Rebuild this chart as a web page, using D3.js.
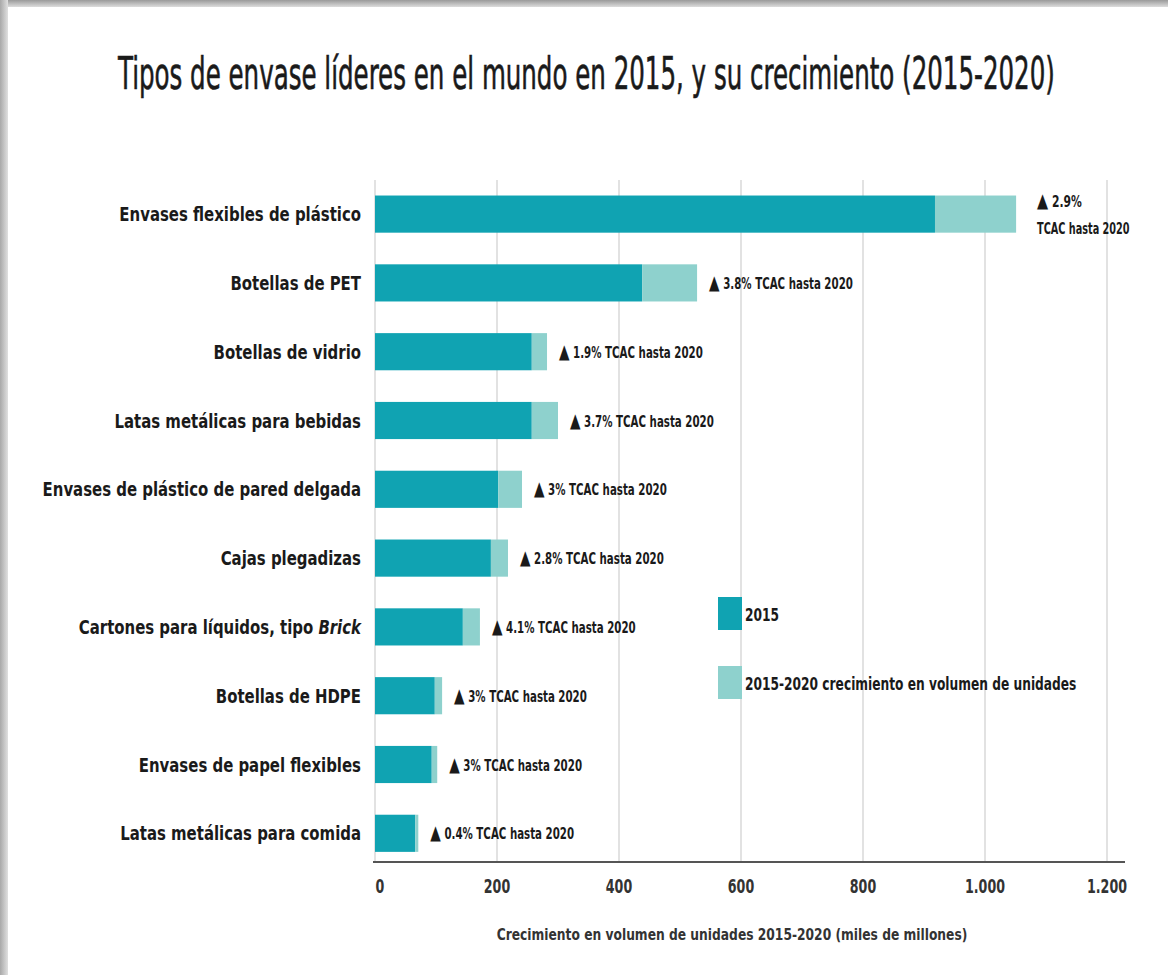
<!DOCTYPE html>
<html>
<head>
<meta charset="utf-8">
<script src="https://cdn.jsdelivr.net/npm/d3@7"></script>
<style>
  html, body { margin: 0; padding: 0; background: #fff; }
  svg { display: block; }
  text { font-family: "DejaVu Sans Condensed", "Liberation Sans Narrow", sans-serif; font-stretch: condensed; fill: #1a1a1a; }
</style>
</head>
<body>
<svg id="chart" width="1168" height="975"></svg>
<script>
// ---- data ----
const categories = [
  "Envases flexibles de plástico",
  "Botellas de PET",
  "Botellas de vidrio",
  "Latas metálicas para bebidas",
  "Envases de plástico de pared delgada",
  "Cajas plegadizas",
  "Cartones para líquidos, tipo Brick",
  "Botellas de HDPE",
  "Envases de papel flexibles",
  "Latas metálicas para comida"
];
const values2015 = [918, 438, 257, 257, 202, 190, 144, 98, 93, 66];
const growth2015_2020 = [133, 90, 25, 43, 39, 28, 28, 12, 9, 5];
const cagrLabels = ["2.9%", "3.8%", "1.9%", "3.7%", "3%", "2.8%", "4.1%", "3%", "3%", "0.4%"];
const tickValues = [0, 200, 400, 600, 800, 1000, 1200];
const tickLabels = ["0", "200", "400", "600", "800", "1.000", "1.200"];
const seriesNames = ["2015", "2015-2020 crecimiento en volumen de unidades"];
const titleText = "Tipos de envase líderes en el mundo en 2015, y su crecimiento (2015-2020)";
const axisTitle = "Crecimiento en volumen de unidades 2015-2020 (miles de millones)";

const colorDark = "#10a3b2";
const colorLight = "#8ed1cd";

const svg = d3.select("#chart");

// place a text at (x,y) squeezed horizontally by factor f (via transform)
function place(sel, xf, yf, f) {
  sel.attr("x", 0).attr("y", 0)
    .attr("transform", function(d, i) {
      return `translate(${typeof xf === "function" ? xf(d, i) : xf},${typeof yf === "function" ? yf(d, i) : yf}) scale(${f},1)`;
    });
}

// frame shadow (top and left)
const defs = svg.append("defs");
const gTop = defs.append("linearGradient").attr("id", "gTop").attr("x1", 0).attr("y1", 0).attr("x2", 0).attr("y2", 1);
gTop.append("stop").attr("offset", "0%").attr("stop-color", "#9a9a9a");
gTop.append("stop").attr("offset", "100%").attr("stop-color", "#dcdcdc");
const gLeft = defs.append("linearGradient").attr("id", "gLeft").attr("x1", 0).attr("y1", 0).attr("x2", 1).attr("y2", 0);
gLeft.append("stop").attr("offset", "0%").attr("stop-color", "#a8a8a8");
gLeft.append("stop").attr("offset", "100%").attr("stop-color", "#e0e0e0");
svg.append("rect").attr("x", 0).attr("y", 0).attr("width", 1168).attr("height", 7).attr("fill", "url(#gTop)");
svg.append("rect").attr("x", 0).attr("y", 0).attr("width", 8).attr("height", 975).attr("fill", "url(#gLeft)");

// title
const title = svg.append("text")
  .style("font-size", "44px").style("stroke", "#1a1a1a").style("stroke-width", 0.6)
  .text(titleText);
const tw = title.node().getComputedTextLength();
title.call(place, 118, 89, 937 / tw);

// scales
const x = d3.scaleLinear().domain([0, 1200]).range([375, 1107]);
const y = d3.scaleBand().domain(categories).range([179.7, 867.7]).paddingInner(0.46).paddingOuter(0.23);

// gridlines
svg.append("g").selectAll("line").data(tickValues).join("line")
  .attr("x1", d => x(d)).attr("x2", d => x(d))
  .attr("y1", 180).attr("y2", 862)
  .attr("stroke", "#cfcfcf").attr("stroke-width", 1.2);

// x axis line and labels
svg.append("line").attr("x1", 373).attr("x2", 1125).attr("y1", 862).attr("y2", 862)
  .attr("stroke", "#555").attr("stroke-width", 2);
svg.append("g").selectAll("text").data(tickValues).join("text")
  .attr("text-anchor", "middle")
  .style("font-size", "19px").style("font-weight", "bold").style("fill", "#333")
  .text((d, i) => tickLabels[i])
  .call(place, (d, i) => i === 0 ? x(d) + 5 : x(d), 893, 0.74);

svg.append("text")
  .attr("text-anchor", "middle")
  .style("font-size", "15px").style("font-weight", "bold").style("fill", "#333")
  .text(axisTitle)
  .call(place, 732, 940, 0.91);

// bars
const rows = svg.append("g").selectAll("g").data(categories).join("g");
rows.append("rect")
  .attr("x", x(0))
  .attr("y", d => y(d))
  .attr("height", y.bandwidth())
  .attr("width", (d, i) => x(values2015[i]) - x(0))
  .attr("fill", colorDark);
rows.append("rect")
  .attr("x", (d, i) => x(values2015[i]))
  .attr("y", d => y(d))
  .attr("height", y.bandwidth())
  .attr("width", (d, i) => x(values2015[i] + growth2015_2020[i]) - x(values2015[i]))
  .attr("fill", colorLight);

// category labels
rows.append("text")
  .attr("text-anchor", "end")
  .style("font-size", "20px").style("font-weight", "bold")
  .each(function(d) {
    const t = d3.select(this);
    if (d.endsWith("Brick")) {
      t.append("tspan").text(d.slice(0, -5));
      t.append("tspan").style("font-style", "italic").text("Brick");
    } else {
      t.text(d);
    }
  })
  .call(place, 361, d => y(d) + y.bandwidth() / 2 + 7, 0.83);

// CAGR annotations
function annot(g, xx, yy, label, f) {
  const t = g.append("text")
    .style("font-size", "15px").style("font-weight", "bold");
  t.append("tspan").style("font-size", "20px").text("▲");
  t.append("tspan").text(" " + label);
  t.call(place, xx, yy, f);
  return t;
}
rows.each(function(d, i) {
  const g = d3.select(this);
  const xe = x(values2015[i] + growth2015_2020[i]);
  const yc = y(d) + y.bandwidth() / 2;
  if (i === 0) {
    annot(g, xe + 21, yc - 7, cagrLabels[i], 0.8);
    g.append("text")
      .style("font-size", "15px").style("font-weight", "bold")
      .text("TCAC hasta 2020")
      .call(place, xe + 21, yc + 20, 0.72);
  } else {
    annot(g, xe + 12, yc + 6, cagrLabels[i] + " TCAC hasta 2020", 0.76);
  }
});

// legend
const legend = svg.append("g");
[colorDark, colorLight].forEach((c, i) => {
  legend.append("rect").attr("x", 718).attr("y", 597 + i * 69).attr("width", 24).attr("height", 33).attr("fill", c);
  legend.append("text")
    .style("font-size", "17px").style("font-weight", "bold")
    .text(seriesNames[i])
    .call(place, 745, 621 + i * 69, 0.8);
});
</script>
</body>
</html>
